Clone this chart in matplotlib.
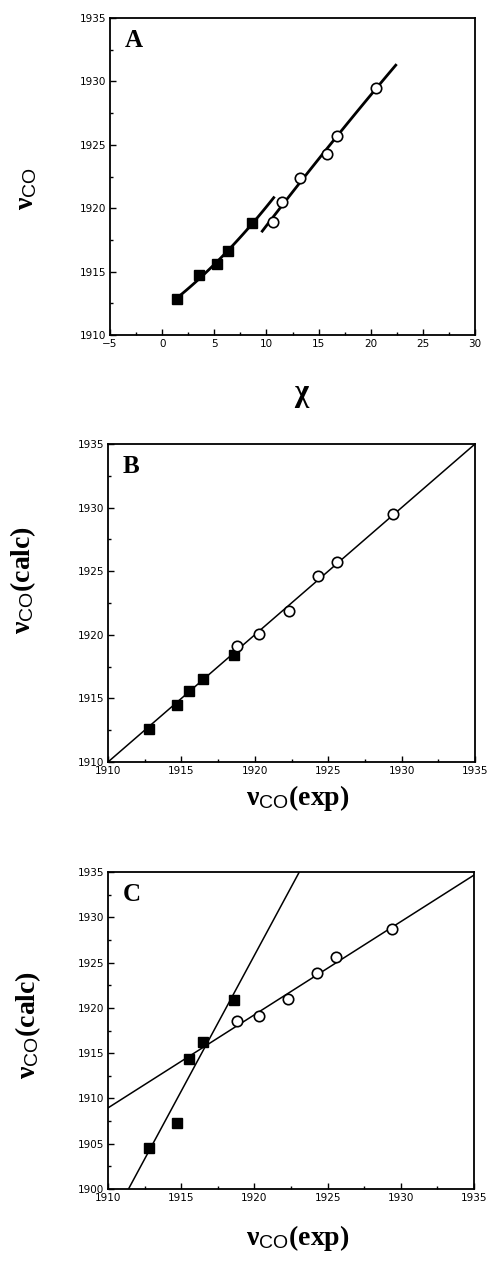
import numpy as np
import matplotlib
matplotlib.use("Agg")
from matplotlib import pyplot as plt
from matplotlib.ticker import MultipleLocator

# panel A: nu(CO) vs chi
chi_sq = [1.4, 3.5, 5.3, 6.3, 8.6]
nu_sq = [1912.8, 1914.7, 1915.6, 1916.6, 1918.8]
chi_circ = [10.6, 11.5, 13.2, 15.8, 16.8, 20.5]
nu_circ = [1918.9, 1920.5, 1922.4, 1924.3, 1925.7, 1929.5]

# panels B and C: calc vs exp
exp_sq = [1912.8, 1914.7, 1915.5, 1916.5, 1918.6]
exp_circ = [1918.8, 1920.3, 1922.3, 1924.3, 1925.6, 1929.4]
calc_b_sq = [1912.6, 1914.5, 1915.6, 1916.5, 1918.4]
calc_b_circ = [1919.1, 1920.1, 1921.9, 1924.6, 1925.7, 1929.5]
calc_c_sq = [1904.5, 1907.3, 1914.4, 1916.2, 1920.9]
calc_c_circ = [1918.5, 1919.1, 1921.0, 1923.8, 1925.6, 1928.7]

plt.rcParams['mathtext.fontset'] = 'custom'
plt.rcParams['mathtext.rm'] = 'Liberation Serif:bold'
plt.rcParams['mathtext.bf'] = 'Liberation Serif:bold'
plt.rcParams['mathtext.sf'] = 'Liberation Sans'
plt.rcParams['mathtext.it'] = 'Liberation Serif:bold'

W, H = 490, 1270
fig = plt.figure(figsize=(W / 100, H / 100), dpi=100)

label_font = dict(family='Liberation Serif', weight='bold', size=20)
nu_lbl = r'$\mathbf{\nu}_{\mathsf{CO}}$'


def px_axes(left, top, right, bottom):
    return fig.add_axes([left / W, 1 - bottom / H, (right - left) / W, (bottom - top) / H])


def style(ax, letter):
    for s in ax.spines.values():
        s.set_linewidth(1.3)
    ax.tick_params(which='both', direction='in', labelsize=7.5, width=1.0,
                   top=False, right=False, pad=3)
    ax.tick_params(which='major', length=4)
    ax.tick_params(which='minor', length=2.5)
    ax.text(0.04, 0.93, letter, transform=ax.transAxes, ha='left', va='center',
            family='Liberation Serif', weight='bold', size=18)


def squares(ax, x, y):
    ax.plot(x, y, 's', color='black', ms=6.5, zorder=3)


def circles(ax, x, y):
    ax.plot(x, y, 'o', mfc='white', mec='black', mew=1.2, ms=7.5, zorder=3)


# ---- A
ax = px_axes(110, 18, 475, 335)
xs = np.linspace(1.3, 10.7, 50)
ax.plot(xs, np.polyval(np.polyfit(chi_sq, nu_sq, 2), xs), color='black', lw=2)
xs = np.linspace(9.6, 22.4, 50)
ax.plot(xs, np.polyval(np.polyfit(chi_circ, nu_circ, 2), xs), color='black', lw=2)
squares(ax, chi_sq, nu_sq)
circles(ax, chi_circ, nu_circ)
ax.set_xlim(-5, 30)
ax.set_ylim(1910, 1935)
ax.xaxis.set_major_locator(MultipleLocator(5))
ax.xaxis.set_minor_locator(MultipleLocator(2.5))
ax.yaxis.set_major_locator(MultipleLocator(5))
ax.yaxis.set_minor_locator(MultipleLocator(2.5))
style(ax, 'A')
fig.text(27 / W, 1 - 189 / H, nu_lbl, rotation=90, ha='center', va='center', **label_font)
fig.text(302 / W, 1 - 396 / H, r'$\mathbf{\chi}$', ha='center', va='center',
         family='Liberation Serif', weight='bold', size=22)

# ---- B
ax = px_axes(108, 444, 475, 762)
lim = np.array([1910, 1935])
ax.plot(lim, lim, color='black', lw=1.1)
squares(ax, exp_sq, calc_b_sq)
circles(ax, exp_circ, calc_b_circ)
ax.set_xlim(1910, 1935)
ax.set_ylim(1910, 1935)
for a in (ax.xaxis, ax.yaxis):
    a.set_major_locator(MultipleLocator(5))
    a.set_minor_locator(MultipleLocator(2.5))
style(ax, 'B')
fig.text(23 / W, 1 - 580 / H, nu_lbl + '(calc)', rotation=90, ha='center', va='center', **label_font)
fig.text(298 / W, 1 - 798 / H, nu_lbl + '(exp)', ha='center', va='center', **label_font)

# ---- C
ax = px_axes(108, 872, 474, 1189)
xs = np.array([1910, 1935])
ax.plot(xs, np.polyval(np.polyfit(exp_sq, calc_c_sq, 1), xs), color='black', lw=1.1)
ax.plot(xs, np.polyval(np.polyfit(exp_circ, calc_c_circ, 1), xs), color='black', lw=1.1)
squares(ax, exp_sq, calc_c_sq)
circles(ax, exp_circ, calc_c_circ)
ax.set_xlim(1910, 1935)
ax.set_ylim(1900, 1935)
ax.xaxis.set_major_locator(MultipleLocator(5))
ax.xaxis.set_minor_locator(MultipleLocator(2.5))
ax.yaxis.set_major_locator(MultipleLocator(5))
ax.yaxis.set_minor_locator(MultipleLocator(2.5))
style(ax, 'C')
fig.text(28 / W, 1 - 1025 / H, nu_lbl + '(calc)', rotation=90, ha='center', va='center', **label_font)
fig.text(298 / W, 1 - 1238 / H, nu_lbl + '(exp)', ha='center', va='center', **label_font)

fig.savefig('out.png', dpi=100)
